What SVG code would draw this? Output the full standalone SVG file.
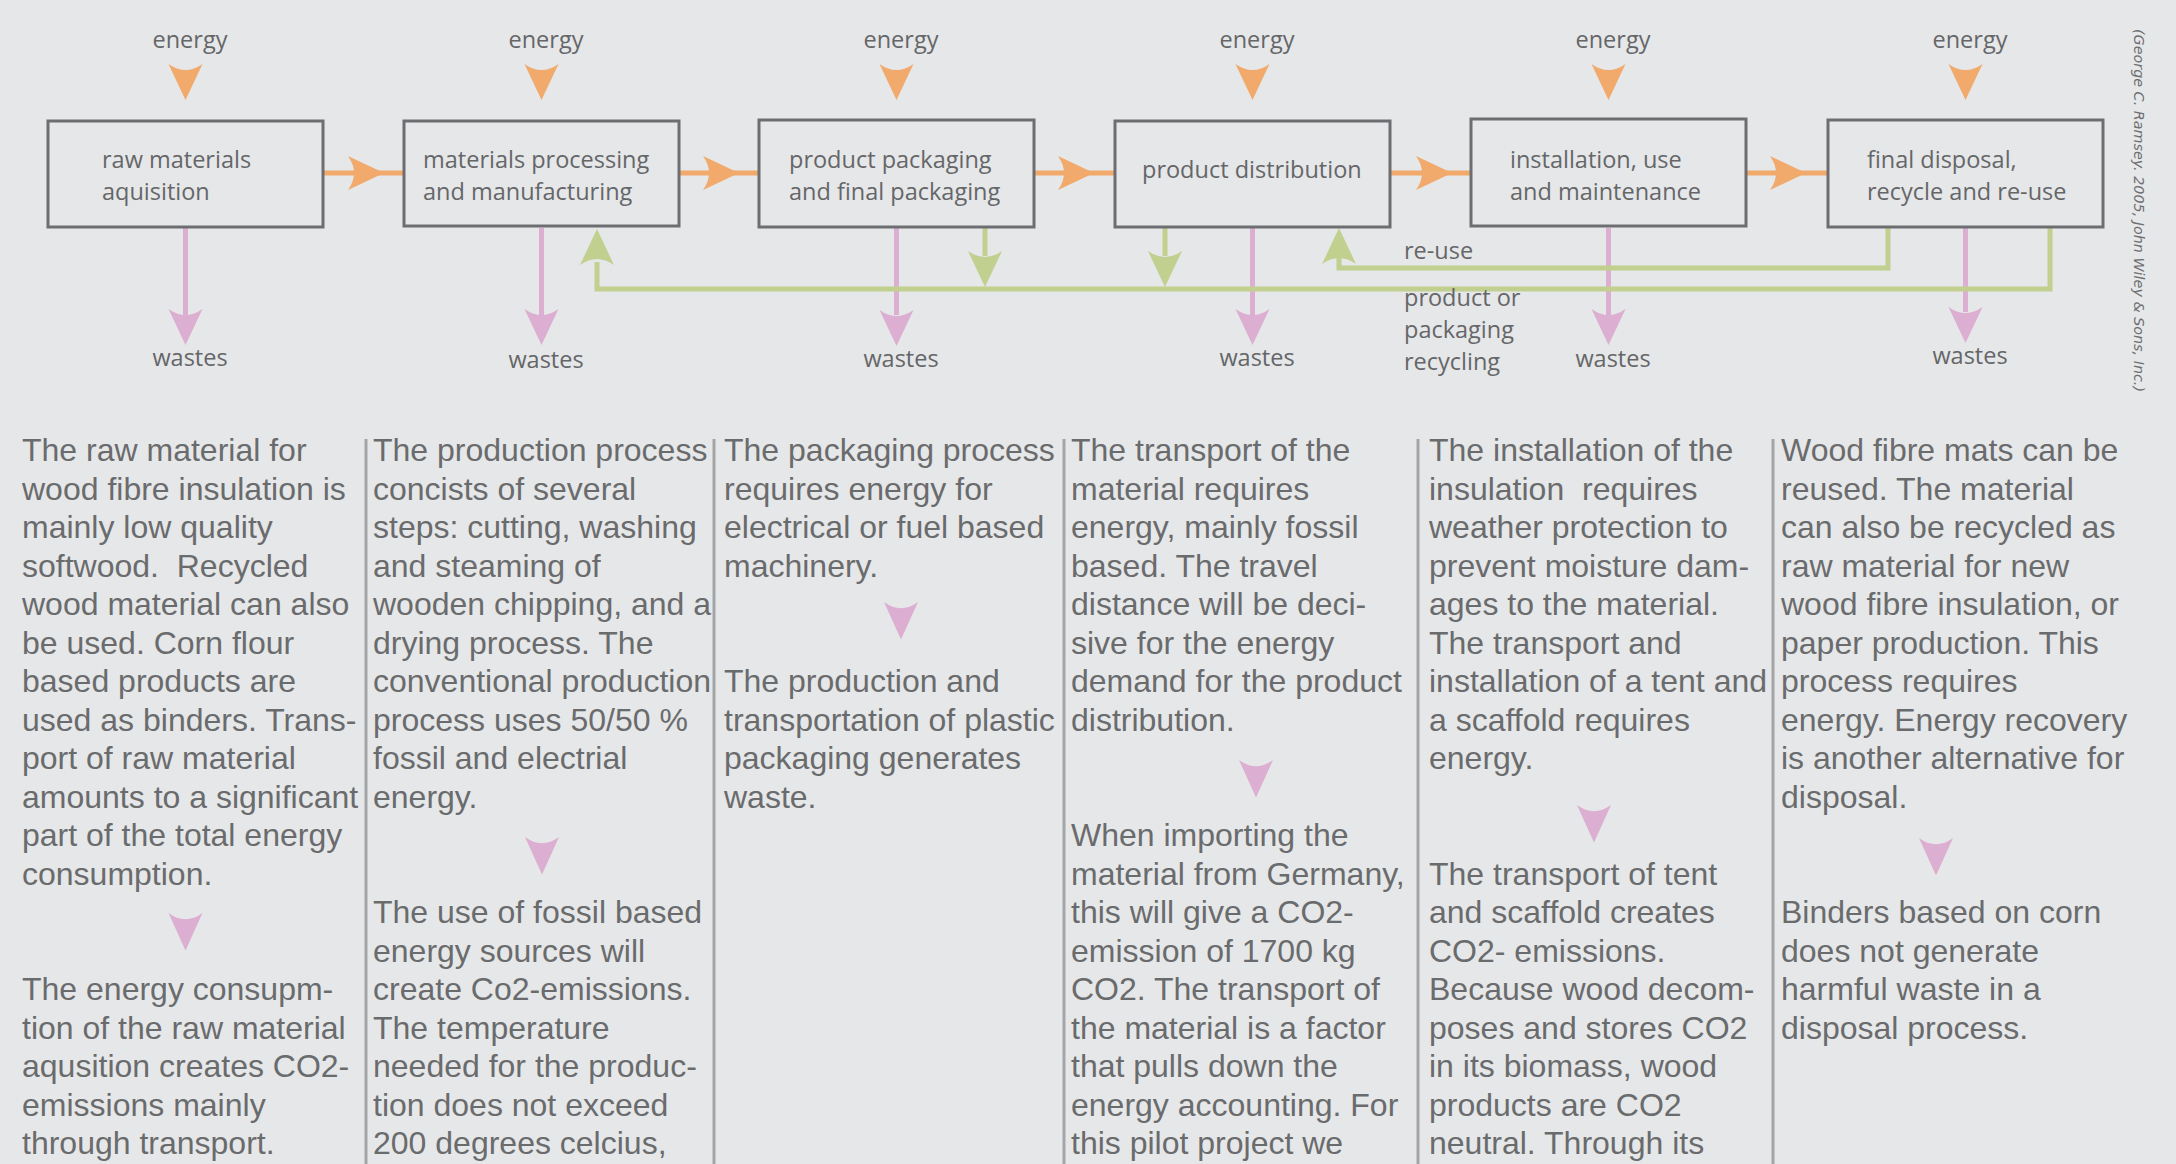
<svg xmlns="http://www.w3.org/2000/svg" xmlns:xlink="http://www.w3.org/1999/xlink" width="2176" height="1164" viewBox="0 0 2176 1164">
<style>
.box{fill:none;stroke:#6d6e71;stroke-width:3}
.lbl{font-family:"Open Sans","Liberation Sans",sans-serif;font-size:23.5px;fill:#656668}
.mid{text-anchor:middle}
.body{font-family:"Liberation Sans",Arial,sans-serif;font-size:32px;fill:#6a6b6d}
.or{fill:#f1a96c}
.pk{fill:#dcaed2}
.gr{fill:#c1cf8f}
.orl{stroke:#f1a96c;stroke-width:5;fill:none}
.pkl{stroke:#dcaed2;stroke-width:5;fill:none}
.grl{stroke:#c1cf8f;stroke-width:5;fill:none}
.sep{stroke:#a3a5a8;stroke-width:3}
.copy{font-family:"DejaVu Sans","Liberation Sans",sans-serif;font-style:italic;font-size:14px;fill:#6d6e70}
</style>
<defs>
<path id="ah" d="M-17,0 Q0,12 17,0 L0,36 Z"/>
</defs>
<rect width="2176" height="1164" fill="#e6e7e8"/>

<g id="connectors">
  <g id="energy-inputs">
    <text class="lbl mid" x="190" y="48">energy</text>
    <text class="lbl mid" x="546" y="48">energy</text>
    <text class="lbl mid" x="901" y="48">energy</text>
    <text class="lbl mid" x="1257" y="48">energy</text>
    <text class="lbl mid" x="1613" y="48">energy</text>
    <text class="lbl mid" x="1970" y="48">energy</text>
    <use xlink:href="#ah" class="or" transform="translate(185.5,64)"/>
    <use xlink:href="#ah" class="or" transform="translate(541.5,64)"/>
    <use xlink:href="#ah" class="or" transform="translate(896.5,64)"/>
    <use xlink:href="#ah" class="or" transform="translate(1252.5,64)"/>
    <use xlink:href="#ah" class="or" transform="translate(1608.5,64)"/>
    <use xlink:href="#ah" class="or" transform="translate(1965.5,64)"/>
  </g>
  <g id="flow">
    <line class="orl" x1="323" y1="173" x2="404" y2="173"/>
    <line class="orl" x1="679" y1="173" x2="759" y2="173"/>
    <line class="orl" x1="1034" y1="173" x2="1115" y2="173"/>
    <line class="orl" x1="1390" y1="173" x2="1471" y2="173"/>
    <line class="orl" x1="1746" y1="173" x2="1828" y2="173"/>
    <use xlink:href="#ah" class="or" transform="translate(348,173) rotate(-90)"/>
    <use xlink:href="#ah" class="or" transform="translate(703,173) rotate(-90)"/>
    <use xlink:href="#ah" class="or" transform="translate(1058,173) rotate(-90)"/>
    <use xlink:href="#ah" class="or" transform="translate(1416,173) rotate(-90)"/>
    <use xlink:href="#ah" class="or" transform="translate(1770,173) rotate(-90)"/>
  </g>
  <g id="wastes">
    <line class="pkl" x1="185.5" y1="228" x2="185.5" y2="315"/>
    <line class="pkl" x1="541.5" y1="228" x2="541.5" y2="315"/>
    <line class="pkl" x1="896.5" y1="228" x2="896.5" y2="315"/>
    <line class="pkl" x1="1252.5" y1="228" x2="1252.5" y2="315"/>
    <line class="pkl" x1="1608.5" y1="228" x2="1608.5" y2="315"/>
    <line class="pkl" x1="1965.5" y1="228" x2="1965.5" y2="312"/>
    <use xlink:href="#ah" class="pk" transform="translate(185.5,309)"/>
    <use xlink:href="#ah" class="pk" transform="translate(541.5,309)"/>
    <use xlink:href="#ah" class="pk" transform="translate(896.5,310)"/>
    <use xlink:href="#ah" class="pk" transform="translate(1252.5,309)"/>
    <use xlink:href="#ah" class="pk" transform="translate(1608.5,309)"/>
    <use xlink:href="#ah" class="pk" transform="translate(1965.5,307)"/>
    <text class="lbl mid" x="190" y="366">wastes</text>
    <text class="lbl mid" x="546" y="368">wastes</text>
    <text class="lbl mid" x="901" y="367">wastes</text>
    <text class="lbl mid" x="1257" y="366">wastes</text>
    <text class="lbl mid" x="1613" y="367">wastes</text>
    <text class="lbl mid" x="1970" y="364">wastes</text>
  </g>
  <g id="recycling">
    <path class="grl" d="M597,262 L597,289 L2050,289 L2050,227"/>
    <use xlink:href="#ah" class="gr" transform="translate(597,265) rotate(180)"/>
    <line class="grl" x1="985" y1="227" x2="985" y2="256"/>
    <use xlink:href="#ah" class="gr" transform="translate(985,251)"/>
    <line class="grl" x1="1165" y1="227" x2="1165" y2="256"/>
    <use xlink:href="#ah" class="gr" transform="translate(1165,251)"/>
    <path class="grl" d="M1888,227 L1888,268 L1339,268 L1339,258"/>
    <use xlink:href="#ah" class="gr" transform="translate(1339,264) rotate(180)"/>
    <text class="lbl" x="1404" y="259">re-use</text>
    <text class="lbl" x="1404" y="306">product or</text>
    <text class="lbl" x="1404" y="338">packaging</text>
    <text class="lbl" x="1404" y="370">recycling</text>
  </g>
</g>

<g id="node-raw-materials">
  <rect class="box" x="48" y="121" width="275" height="106"/>
  <text class="lbl" x="102" y="168">raw materials</text>
  <text class="lbl" x="102" y="200">aquisition</text>
</g>
<g id="node-processing">
  <rect class="box" x="404" y="121" width="275" height="105"/>
  <text class="lbl" x="423" y="168">materials processing</text>
  <text class="lbl" x="423" y="200">and manufacturing</text>
</g>
<g id="node-packaging">
  <rect class="box" x="759" y="120" width="275" height="107"/>
  <text class="lbl" x="789" y="168">product packaging</text>
  <text class="lbl" x="789" y="200">and final packaging</text>
</g>
<g id="node-distribution">
  <rect class="box" x="1115" y="121" width="275" height="106"/>
  <text class="lbl" x="1142" y="178">product distribution</text>
</g>
<g id="node-installation">
  <rect class="box" x="1471" y="119" width="275" height="107"/>
  <text class="lbl" x="1510" y="168">installation, use</text>
  <text class="lbl" x="1510" y="200">and maintenance</text>
</g>
<g id="node-disposal">
  <rect class="box" x="1828" y="120" width="275" height="107"/>
  <text class="lbl" x="1867" y="168">final disposal,</text>
  <text class="lbl" x="1867" y="200">recycle and re-use</text>
</g>

<text class="copy" transform="translate(2134,29) rotate(90)" textLength="363" lengthAdjust="spacingAndGlyphs">(George C. Ramsey. 2005, John Wiley &amp; Sons, Inc.)</text>

<g id="separators">
  <line class="sep" x1="366" y1="439" x2="366" y2="1164"/>
  <line class="sep" x1="714" y1="439" x2="714" y2="1164"/>
  <line class="sep" x1="1064" y1="439" x2="1064" y2="1164"/>
  <line class="sep" x1="1418" y1="439" x2="1418" y2="1164"/>
  <line class="sep" x1="1773" y1="439" x2="1773" y2="1164"/>
</g>

<g id="col-1">
  <text class="body" x="22" y="461">
    <tspan x="22" dy="0">The raw material for</tspan>
    <tspan x="22" dy="38.5">wood fibre insulation is</tspan>
    <tspan x="22" dy="38.5">mainly low quality</tspan>
    <tspan x="22" dy="38.5" xml:space="preserve">softwood.  Recycled</tspan>
    <tspan x="22" dy="38.5">wood material can also</tspan>
    <tspan x="22" dy="38.5">be used. Corn flour</tspan>
    <tspan x="22" dy="38.5">based products are</tspan>
    <tspan x="22" dy="38.5">used as binders. Trans-</tspan>
    <tspan x="22" dy="38.5">port of raw material</tspan>
    <tspan x="22" dy="38.5">amounts to a significant</tspan>
    <tspan x="22" dy="38.5">part of the total energy</tspan>
    <tspan x="22" dy="38.5">consumption.</tspan>
  </text>
  <use xlink:href="#ah" class="pk" transform="translate(185.5,913) scale(1,1.04)"/>
  <text class="body" x="22" y="1000">
    <tspan x="22" dy="0">The energy consupm-</tspan>
    <tspan x="22" dy="38.5">tion of the raw material</tspan>
    <tspan x="22" dy="38.5">aqusition creates CO2-</tspan>
    <tspan x="22" dy="38.5">emissions mainly</tspan>
    <tspan x="22" dy="38.5">through transport.</tspan>
  </text>
</g>

<g id="col-2">
  <text class="body" x="373" y="461">
    <tspan x="373" dy="0">The production process</tspan>
    <tspan x="373" dy="38.5">concists of several</tspan>
    <tspan x="373" dy="38.5">steps: cutting, washing</tspan>
    <tspan x="373" dy="38.5">and steaming of</tspan>
    <tspan x="373" dy="38.5">wooden chipping, and a</tspan>
    <tspan x="373" dy="38.5">drying process. The</tspan>
    <tspan x="373" dy="38.5">conventional production</tspan>
    <tspan x="373" dy="38.5">process uses 50/50 %</tspan>
    <tspan x="373" dy="38.5">fossil and electrial</tspan>
    <tspan x="373" dy="38.5">energy.</tspan>
  </text>
  <use xlink:href="#ah" class="pk" transform="translate(542,837) scale(1,1.04)"/>
  <text class="body" x="373" y="923">
    <tspan x="373" dy="0">The use of fossil based</tspan>
    <tspan x="373" dy="38.5">energy sources will</tspan>
    <tspan x="373" dy="38.5">create Co2-emissions.</tspan>
    <tspan x="373" dy="38.5">The temperature</tspan>
    <tspan x="373" dy="38.5">needed for the produc-</tspan>
    <tspan x="373" dy="38.5">tion does not exceed</tspan>
    <tspan x="373" dy="38.5">200 degrees celcius,</tspan>
  </text>
</g>

<g id="col-3">
  <text class="body" x="724" y="461">
    <tspan x="724" dy="0">The packaging process</tspan>
    <tspan x="724" dy="38.5">requires energy for</tspan>
    <tspan x="724" dy="38.5">electrical or fuel based</tspan>
    <tspan x="724" dy="38.5">machinery.</tspan>
  </text>
  <use xlink:href="#ah" class="pk" transform="translate(901,602) scale(1,1.04)"/>
  <text class="body" x="724" y="692">
    <tspan x="724" dy="0">The production and</tspan>
    <tspan x="724" dy="38.5">transportation of plastic</tspan>
    <tspan x="724" dy="38.5">packaging generates</tspan>
    <tspan x="724" dy="38.5">waste.</tspan>
  </text>
</g>

<g id="col-4">
  <text class="body" x="1071" y="461">
    <tspan x="1071" dy="0">The transport of the</tspan>
    <tspan x="1071" dy="38.5">material requires</tspan>
    <tspan x="1071" dy="38.5">energy, mainly fossil</tspan>
    <tspan x="1071" dy="38.5">based. The travel</tspan>
    <tspan x="1071" dy="38.5">distance will be deci-</tspan>
    <tspan x="1071" dy="38.5">sive for the energy</tspan>
    <tspan x="1071" dy="38.5">demand for the product</tspan>
    <tspan x="1071" dy="38.5">distribution.</tspan>
  </text>
  <use xlink:href="#ah" class="pk" transform="translate(1256,760) scale(1,1.04)"/>
  <text class="body" x="1071" y="846">
    <tspan x="1071" dy="0">When importing the</tspan>
    <tspan x="1071" dy="38.5">material from Germany,</tspan>
    <tspan x="1071" dy="38.5">this will give a CO2-</tspan>
    <tspan x="1071" dy="38.5">emission of 1700 kg</tspan>
    <tspan x="1071" dy="38.5">CO2. The transport of</tspan>
    <tspan x="1071" dy="38.5">the material is a factor</tspan>
    <tspan x="1071" dy="38.5">that pulls down the</tspan>
    <tspan x="1071" dy="38.5">energy accounting. For</tspan>
    <tspan x="1071" dy="38.5">this pilot project we</tspan>
  </text>
</g>

<g id="col-5">
  <text class="body" x="1429" y="461">
    <tspan x="1429" dy="0">The installation of the</tspan>
    <tspan x="1429" dy="38.5" xml:space="preserve">insulation  requires</tspan>
    <tspan x="1429" dy="38.5">weather protection to</tspan>
    <tspan x="1429" dy="38.5">prevent moisture dam-</tspan>
    <tspan x="1429" dy="38.5">ages to the material.</tspan>
    <tspan x="1429" dy="38.5">The transport and</tspan>
    <tspan x="1429" dy="38.5">installation of a tent and</tspan>
    <tspan x="1429" dy="38.5">a scaffold requires</tspan>
    <tspan x="1429" dy="38.5">energy.</tspan>
  </text>
  <use xlink:href="#ah" class="pk" transform="translate(1594,805) scale(1,1.04)"/>
  <text class="body" x="1429" y="884.5">
    <tspan x="1429" dy="0">The transport of tent</tspan>
    <tspan x="1429" dy="38.5">and scaffold creates</tspan>
    <tspan x="1429" dy="38.5">CO2- emissions.</tspan>
    <tspan x="1429" dy="38.5">Because wood decom-</tspan>
    <tspan x="1429" dy="38.5">poses and stores CO2</tspan>
    <tspan x="1429" dy="38.5">in its biomass, wood</tspan>
    <tspan x="1429" dy="38.5">products are CO2</tspan>
    <tspan x="1429" dy="38.5">neutral. Through its</tspan>
  </text>
</g>

<g id="col-6">
  <text class="body" x="1781" y="461">
    <tspan x="1781" dy="0">Wood fibre mats can be</tspan>
    <tspan x="1781" dy="38.5">reused. The material</tspan>
    <tspan x="1781" dy="38.5">can also be recycled as</tspan>
    <tspan x="1781" dy="38.5">raw material for new</tspan>
    <tspan x="1781" dy="38.5">wood fibre insulation, or</tspan>
    <tspan x="1781" dy="38.5">paper production. This</tspan>
    <tspan x="1781" dy="38.5">process requires</tspan>
    <tspan x="1781" dy="38.5">energy. Energy recovery</tspan>
    <tspan x="1781" dy="38.5">is another alternative for</tspan>
    <tspan x="1781" dy="38.5">disposal.</tspan>
  </text>
  <use xlink:href="#ah" class="pk" transform="translate(1936,838) scale(1,1.04)"/>
  <text class="body" x="1781" y="923">
    <tspan x="1781" dy="0">Binders based on corn</tspan>
    <tspan x="1781" dy="38.5">does not generate</tspan>
    <tspan x="1781" dy="38.5">harmful waste in a</tspan>
    <tspan x="1781" dy="38.5">disposal process.</tspan>
  </text>
</g>
</svg>
